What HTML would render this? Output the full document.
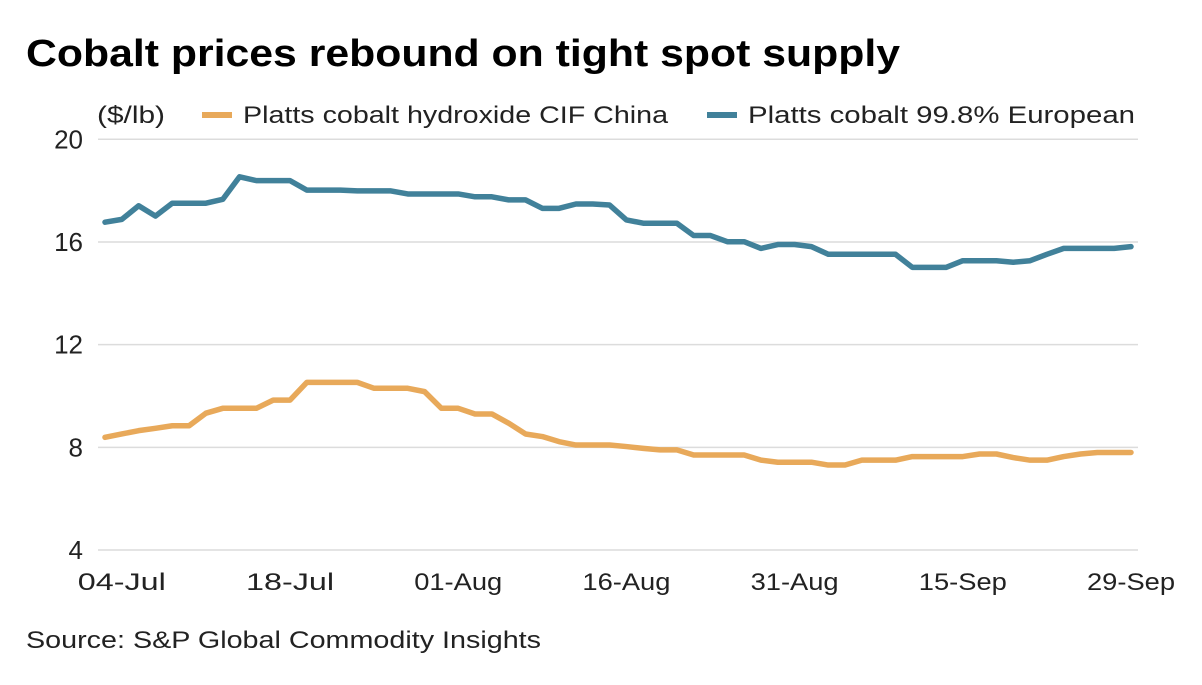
<!DOCTYPE html>
<html><head><meta charset="utf-8"><style>
body{margin:0;background:#fff;width:1202px;height:680px;overflow:hidden;font-family:"Liberation Sans",sans-serif;color:#111}
</style></head><body>
<svg width="1202" height="680">
<text x="26" y="66" font-size="38" font-weight="bold" fill="#000" textLength="874" lengthAdjust="spacingAndGlyphs">Cobalt prices rebound on tight spot supply</text>
<text x="97" y="123" font-size="24" fill="#222" textLength="68" lengthAdjust="spacingAndGlyphs">($/lb)</text>
<g><line x1="202" y1="115" x2="232" y2="115" stroke="#e8a95a" stroke-width="6"/><text x="243" y="123" font-size="24" fill="#222" textLength="425" lengthAdjust="spacingAndGlyphs">Platts cobalt hydroxide CIF China</text></g>
<g><line x1="707" y1="115" x2="737" y2="115" stroke="#41819a" stroke-width="6"/><text x="748" y="123" font-size="24" fill="#222" textLength="387" lengthAdjust="spacingAndGlyphs">Platts cobalt 99.8% European</text></g>
<g id="grid"></g><g id="yt"></g><g id="xt"></g><g id="lines"></g>
<text x="26" y="648" font-size="24" fill="#222" textLength="515" lengthAdjust="spacingAndGlyphs">Source: S&amp;P Global Commodity Insights</text>
</svg>
<script>
const yTicks=[4,8,12,16,20];
const xLabels=["04-Jul","18-Jul","01-Aug","16-Aug","31-Aug","15-Sep","29-Sep"];
const xLabelIdx=[1,11,21,31,41,51,61];
const european=[16.77,16.88,17.41,17.01,17.51,17.51,17.51,17.66,18.54,18.39,18.39,18.39,18.02,18.02,18.02,17.99,17.99,17.99,17.87,17.87,17.87,17.87,17.76,17.76,17.64,17.64,17.31,17.31,17.48,17.48,17.44,16.86,16.73,16.73,16.73,16.25,16.25,16.01,16.01,15.75,15.9,15.9,15.82,15.52,15.52,15.52,15.52,15.52,15.01,15.01,15.01,15.27,15.27,15.27,15.21,15.27,15.52,15.75,15.75,15.75,15.75,15.82];
const hydroxide=[8.39,8.52,8.65,8.74,8.84,8.84,9.33,9.52,9.52,9.52,9.84,9.84,10.53,10.53,10.53,10.53,10.3,10.3,10.3,10.17,9.52,9.52,9.3,9.3,8.94,8.52,8.42,8.22,8.09,8.09,8.09,8.03,7.96,7.9,7.9,7.7,7.7,7.7,7.7,7.5,7.42,7.42,7.42,7.31,7.31,7.5,7.5,7.5,7.64,7.64,7.64,7.64,7.74,7.74,7.6,7.5,7.5,7.64,7.74,7.8,7.8,7.8];
const NS="http://www.w3.org/2000/svg";
const x0=105,x1=1131,n=european.length;
const X=i=>x0+(x1-x0)*i/(n-1);
const Y=v=>550-(v-4)*(550-139.3)/16;
function mk(tag,attrs,parent){const e=document.createElementNS(NS,tag);for(const k in attrs)e.setAttribute(k,attrs[k]);document.getElementById(parent).appendChild(e);return e;}
yTicks.forEach(v=>{
 const l=mk('line',{x1:98,x2:1138,y1:Y(v),y2:Y(v),stroke:'#dcdcdc','stroke-width':1.5},'grid');
 
 
 const t=mk('text',{x:83,y:Y(v)+9,'text-anchor':'end','font-size':26,fill:'#222'},'yt');
 t.textContent=v;
 
 
});
xLabels.forEach((s,k)=>{
 const t=mk('text',{x:X(xLabelIdx[k]),y:590,'text-anchor':'middle','font-size':24,fill:'#222',textLength:88,lengthAdjust:'spacingAndGlyphs'},'xt');
 t.textContent=s;
 
 
});
function line(data,color,name){
 const p=mk('polyline',{points:data.map((v,i)=>X(i)+','+Y(v)).join(' '),fill:'none',stroke:color,'stroke-width':5.5,'stroke-linejoin':'round','stroke-linecap':'round'},'lines');
 
 
}
line(hydroxide,'#e8a95a','hydroxide-line');
line(european,'#41819a','european-line');
</script>
</body></html>
